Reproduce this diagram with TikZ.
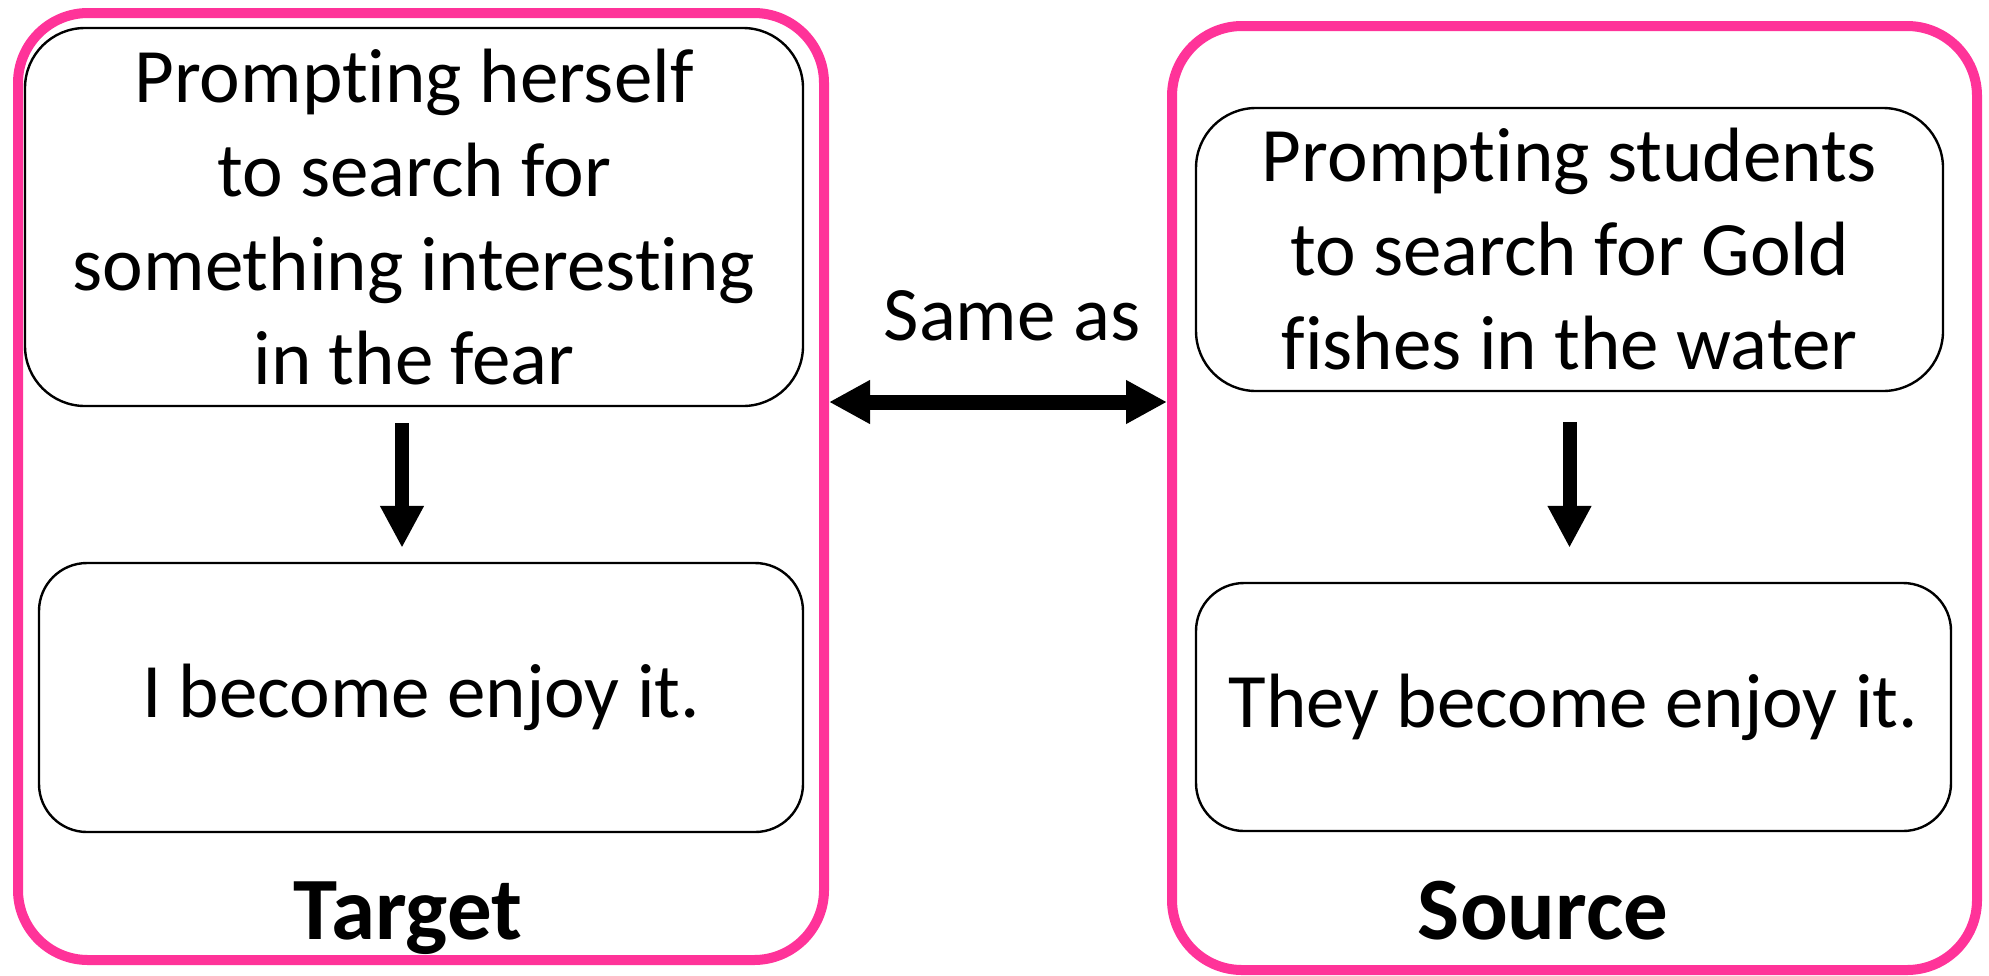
\documentclass[tikz,border=0pt]{standalone}
\usepackage{fontspec}
\setmainfont{Carlito}[Ligatures=NoCommon]
\usetikzlibrary{arrows.meta}
\definecolor{framepink}{RGB}{255,51,153}
\tikzset{
  frame/.style={draw=framepink, line width=5pt, rounded corners=35pt, inner sep=0pt},
  topbox/.style={draw=black, line width=1.2pt, rounded corners=30pt, align=center, inner sep=0pt,
    font=\fontsize{38.5}{47}\selectfont},
  botbox/.style={draw=black, line width=1.2pt, rounded corners=24pt, align=center, inner sep=0pt,
    font=\fontsize{38.5}{47}\selectfont},
  downarrow/.style={line width=7pt, -{Triangle[length=21pt,width=20.5pt]}},
  dblarrow/.style={line width=7.5pt, {Triangle[length=20.5pt,width=20.5pt]}-{Triangle[length=20.5pt,width=20.5pt]}},
  caption/.style={font=\fontsize{44.5}{52}\selectfont\bfseries, anchor=base, inner sep=0pt},
  label/.style={font=\fontsize{38.5}{47}\selectfont, anchor=base, inner sep=0pt}
}
\begin{document}
\begin{tikzpicture}[x=0.5pt,y=-0.5pt]
\useasboundingbox (0,0) rectangle (1989,975);
% frames
\node[frame, minimum width=403pt, minimum height=473.5pt] (lframe) at (421,486.5) {};
\node[frame, minimum width=402.5pt, minimum height=472pt] (rframe) at (1574.5,498) {};
% left boxes
\node[topbox, minimum width=389pt, minimum height=189pt] (ltop) at (414,217)
  {Prompting herself\\to search for\\something interesting\\in the fear};
\node[botbox, minimum width=382pt, minimum height=134.5pt] (lbot) at (421,697.5)
  {I become enjoy it.};
% right boxes
\node[topbox, minimum width=373.5pt, minimum height=141.5pt] (rtop) at (1569.5,249.5)
  {Prompting students\\to search for Gold\\fishes in the water};
\node[botbox, minimum width=377.5pt, minimum height=124pt] (rbot) at (1573.5,707)
  {They become enjoy it.};
% captions
\node[caption] (tcap) at (408,939) {Target};
\node[caption] (scap) at (1543,939) {Source};
% vertical arrows
\draw[downarrow] ([xshift=-6pt,yshift=-8pt]ltop.south) -- ([xshift=-6pt,yshift=7pt]ltop.south |- lbot.north);
\draw[downarrow] ([yshift=-15pt]rtop.south) -- ([yshift=17pt]rtop.south |- rbot.north);
% double arrow
\coordinate (mid) at (0,402);
\draw[dblarrow] (lframe.east |- mid) -- (rframe.west |- mid);
\node[label] (same) at (1012,340) {Same as};
\end{tikzpicture}
\end{document}
